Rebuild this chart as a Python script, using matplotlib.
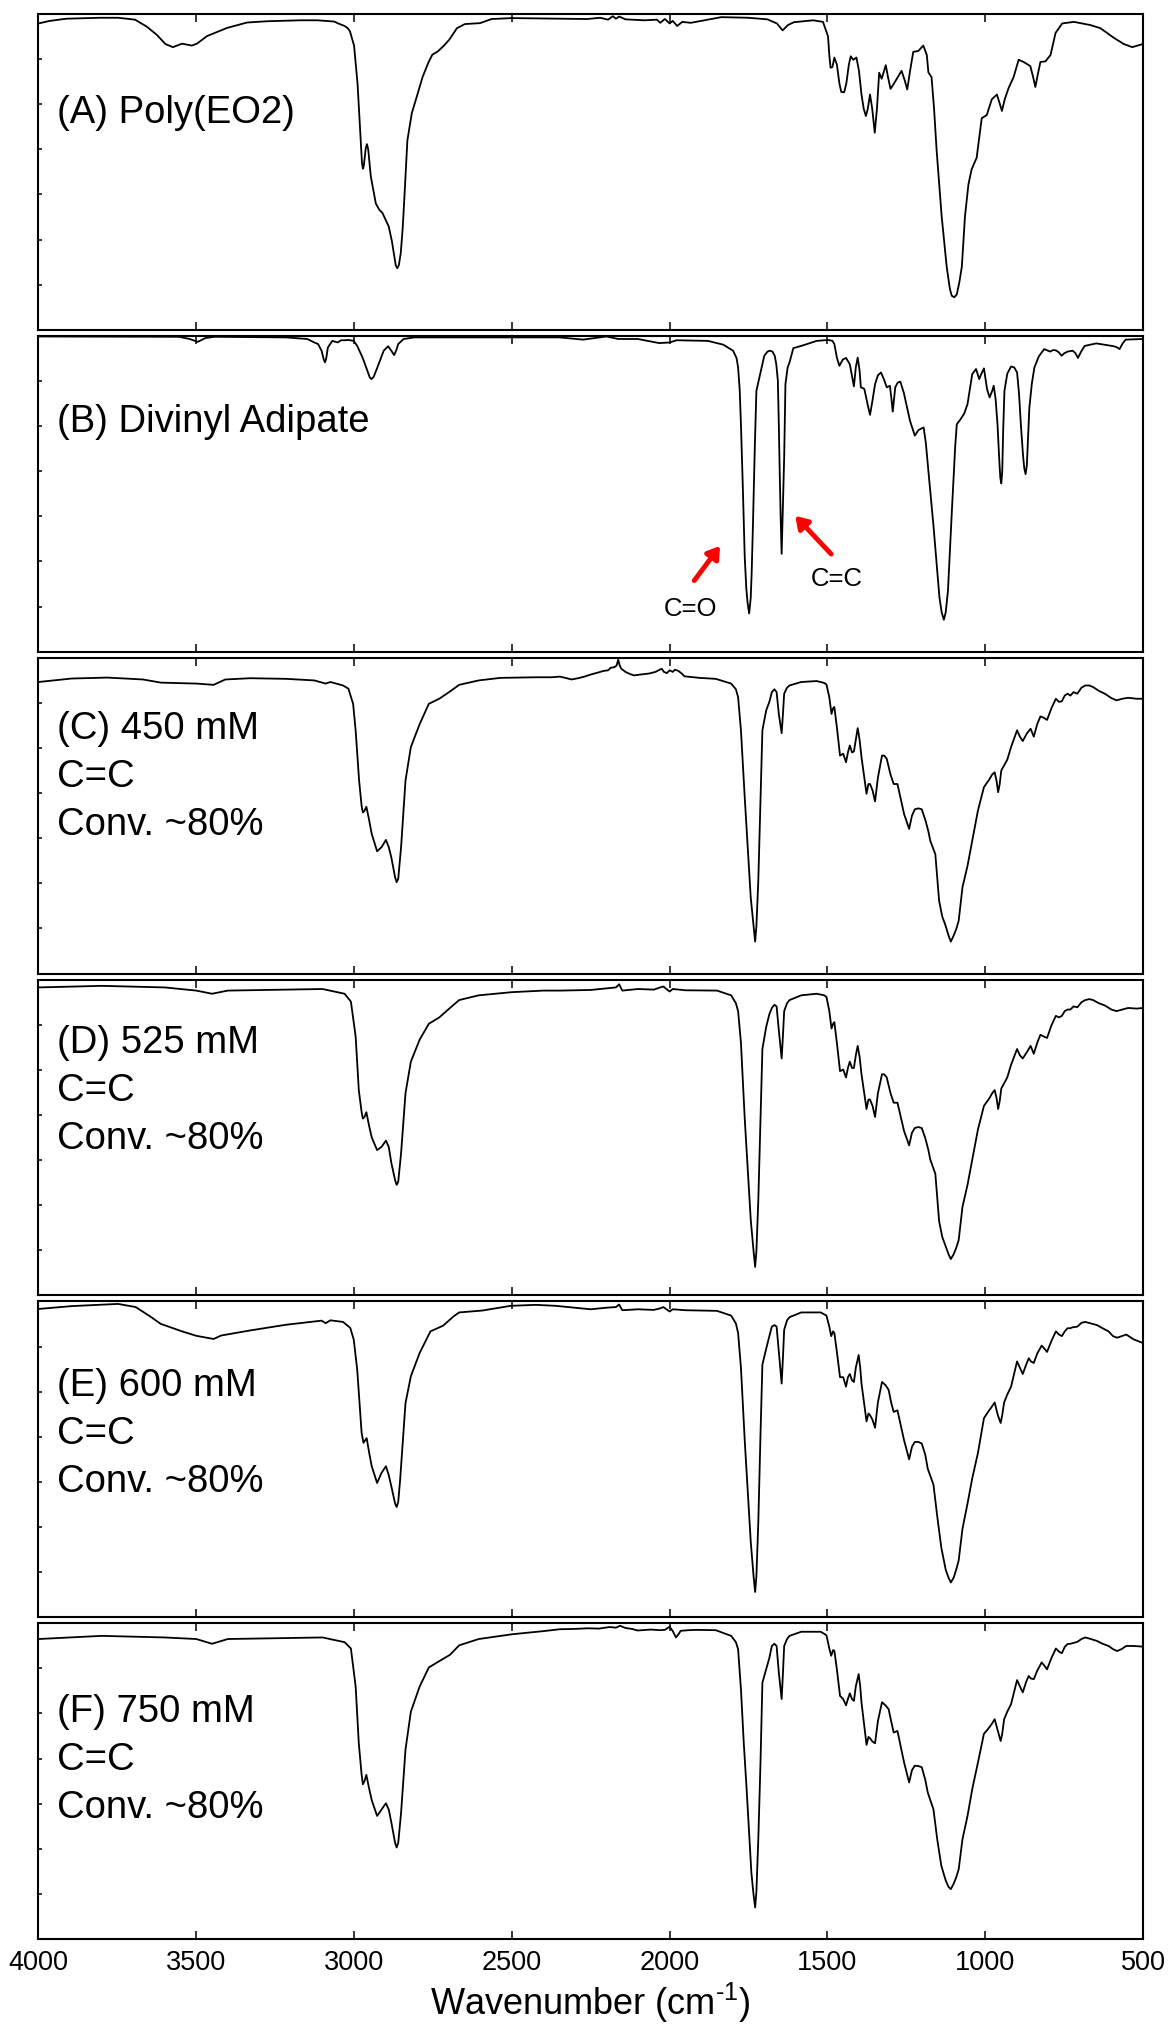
import numpy as np
import matplotlib
matplotlib.use("Agg")
from matplotlib import pyplot as plt

plt.rcParams['font.family'] = ['Liberation Sans', 'DejaVu Sans']
plt.rcParams['mathtext.fontset'] = 'custom'
plt.rcParams['mathtext.rm'] = 'Liberation Sans'
plt.rcParams['mathtext.it'] = 'Liberation Sans:italic'

# FTIR spectra as (wavenumber cm-1, normalised transmittance) pairs
a_pts = [(4000, .970), (3965, .978), (3912, .985), (3806, .988), (3747, .988), (3694, .982), (3657, .960), (3625, .934),
         (3598, .905), (3574, .895), (3545, .906), (3514, .900), (3498, .906), (3466, .930), (3402, .956), (3339, .973),
         (3275, .977), (3171, .980), (3116, .980), (3063, .976), (3050, .970), (3030, .962), (3020, .955), (3013, .945),
         (3000, .900), (2989, .780), (2979, .600), (2975, .530), (2972, .510), (2969, .520), (2963, .575), (2959, .588),
         (2955, .570), (2947, .486), (2931, .400), (2920, .380), (2910, .370), (2890, .327), (2880, .280), (2874, .243),
         (2868, .205), (2863, .195), (2858, .205), (2852, .243), (2846, .320), (2841, .410), (2831, .600), (2817, .686),
         (2801, .739), (2783, .800), (2765, .845), (2752, .871), (2734, .882), (2715, .900), (2698, .919), (2674, .955),
         (2649, .968), (2601, .971), (2564, .984), (2500, .987), (2261, .984), (2220, .988), (2195, .982), (2180, .993),
         (2170, .985), (2160, .992), (2140, .983), (2079, .980), (2040, .982), (2030, .972), (2015, .984), (2000, .970),
         (1990, .978), (1976, .962), (1960, .975), (1933, .972), (1836, .990), (1750, .988), (1690, .983), (1660, .970),
         (1642, .948), (1625, .965), (1606, .974), (1545, .980), (1514, .975), (1498, .929), (1494, .870), (1490, .830),
         (1484, .832), (1478, .862), (1470, .840), (1462, .780), (1456, .753), (1447, .752), (1440, .780), (1432, .840),
         (1426, .866), (1418, .855), (1408, .862), (1400, .820), (1392, .745), (1385, .700), (1378, .677), (1372, .700),
         (1365, .745), (1358, .700), (1350, .624), (1343, .700), (1336, .814), (1328, .795), (1315, .838), (1308, .800),
         (1300, .763), (1292, .775), (1283, .790), (1265, .820), (1255, .790), (1247, .761), (1238, .820), (1228, .880),
         (1212, .883), (1196, .900), (1185, .870), (1180, .815), (1170, .800), (1162, .700), (1154, .570), (1138, .360),
         (1122, .200), (1112, .130), (1106, .108), (1098, .103), (1090, .112), (1082, .150), (1074, .200), (1064, .360),
         (1053, .461), (1043, .508), (1027, .545), (1011, .670), (995, .680), (979, .730), (963, .745), (955, .720),
         (947, .693), (938, .730), (926, .765), (910, .800), (894, .855), (878, .848), (857, .835), (848, .800),
         (841, .769), (833, .810), (825, .848), (809, .850), (793, .870), (777, .940), (756, .970), (719, .975),
         (667, .965), (635, .955), (593, .925), (561, .905), (534, .895), (500, .905)]

b_pts = [(4000, .998), (3555, .997), (3521, .990), (3495, .981), (3471, .993), (3442, .997), (3216, .995), (3148, .990),
         (3126, .979), (3114, .974), (3103, .953), (3096, .925), (3092, .916), (3088, .930), (3083, .963), (3069, .984),
         (3052, .979), (3041, .986), (3029, .986), (3018, .987), (3001, .984), (2990, .968), (2973, .931), (2956, .884),
         (2950, .868), (2945, .863), (2938, .870), (2928, .895), (2906, .953), (2892, .967), (2882, .953), (2873, .939),
         (2866, .955), (2860, .974), (2843, .990), (2809, .995), (2500, .995), (2348, .995), (2274, .988), (2200, .998),
         (2163, .990), (2101, .990), (2033, .977), (2000, .979), (1978, .986), (1879, .984), (1830, .972), (1799, .953),
         (1788, .930), (1783, .900), (1778, .830), (1774, .720), (1768, .520), (1762, .300), (1757, .200), (1753, .155),
         (1748, .121), (1743, .170), (1740, .250), (1736, .400), (1730, .650), (1725, .826), (1713, .879), (1700, .937),
         (1690, .950), (1682, .953), (1674, .950), (1667, .937), (1662, .910), (1657, .858), (1654, .720), (1651, .560),
         (1648, .420), (1645, .310), (1642, .420), (1639, .540), (1637, .615), (1633, .847), (1626, .900), (1620, .916),
         (1608, .961), (1583, .968), (1534, .984), (1497, .987), (1484, .984), (1478, .974), (1470, .931), (1462, .905),
         (1451, .925), (1441, .930), (1429, .910), (1416, .840), (1410, .900), (1404, .931), (1398, .890), (1394, .837),
         (1383, .832), (1372, .780), (1365, .750), (1358, .790), (1349, .847), (1340, .875), (1330, .884), (1320, .860),
         (1312, .837), (1302, .842), (1297, .800), (1293, .760), (1289, .800), (1285, .837), (1277, .852), (1269, .855),
         (1258, .820), (1250, .784), (1238, .730), (1223, .684), (1211, .702), (1195, .710), (1188, .660), (1182, .594),
         (1164, .400), (1145, .172), (1138, .125), (1131, .101), (1125, .125), (1118, .193), (1105, .457), (1095, .650),
         (1090, .720), (1078, .736), (1066, .755), (1056, .784), (1041, .879), (1029, .895), (1019, .863), (1012, .880),
         (1004, .897), (994, .831), (986, .805), (978, .825), (973, .842), (967, .800), (961, .720), (955, .600),
         (952, .550), (949, .533), (946, .570), (943, .700), (939, .826), (930, .880), (918, .903), (908, .900),
         (899, .884), (893, .820), (887, .720), (880, .620), (876, .580), (872, .562), (868, .590), (864, .680),
         (860, .773), (852, .850), (844, .900), (830, .935), (813, .958), (794, .950), (785, .955), (776, .954),
         (767, .948), (758, .937), (749, .945), (739, .950), (723, .953), (714, .945), (706, .930), (696, .950),
         (685, .968), (648, .976), (598, .968), (585, .965), (574, .958), (565, .975), (555, .988), (500, .990)]

c_pts = [(4000, .923), (3895, .934), (3782, .937), (3669, .931), (3612, .921), (3499, .918), (3445, .914), (3408, .931),
         (3329, .935), (3216, .933), (3126, .928), (3090, .918), (3075, .923), (3035, .912), (3018, .902), (3003, .854),
         (2995, .770), (2984, .611), (2976, .530), (2972, .510), (2967, .515), (2961, .528), (2953, .490), (2944, .442),
         (2927, .387), (2913, .400), (2899, .423), (2890, .400), (2882, .368), (2870, .305), (2865, .289), (2860, .300),
         (2851, .400), (2837, .611), (2820, .717), (2792, .790), (2763, .854), (2730, .870), (2696, .893), (2667, .914),
         (2605, .928), (2537, .936), (2424, .938), (2374, .938), (2348, .940), (2330, .936), (2311, .931), (2290, .935),
         (2270, .940), (2249, .947), (2230, .952), (2210, .958), (2195, .960), (2187, .968), (2175, .970), (2168, .975),
         (2163, .994), (2158, .975), (2153, .965), (2140, .955), (2125, .948), (2113, .944), (2090, .947), (2064, .950),
         (2045, .955), (2035, .960), (2025, .965), (2018, .955), (2009, .951), (2000, .960), (1990, .955), (1983, .962),
         (1972, .958), (1962, .950), (1953, .941), (1904, .936), (1854, .933), (1805, .918), (1790, .900), (1783, .875),
         (1774, .770), (1762, .558), (1743, .241), (1734, .150), (1729, .101), (1725, .150), (1719, .294), (1712, .550),
         (1706, .770), (1694, .833), (1684, .860), (1676, .891), (1668, .900), (1661, .891), (1654, .822), (1645, .761),
         (1641, .820), (1637, .886), (1628, .905), (1620, .912), (1583, .923), (1534, .926), (1510, .920), (1503, .915),
         (1494, .875), (1487, .822), (1482, .840), (1478, .844), (1470, .780), (1460, .690), (1450, .696), (1441, .669),
         (1435, .700), (1429, .722), (1422, .700), (1416, .703), (1410, .740), (1404, .777), (1398, .740), (1392, .685),
         (1376, .569), (1370, .600), (1365, .600), (1357, .580), (1349, .545), (1340, .620), (1327, .690), (1320, .690),
         (1312, .680), (1300, .630), (1290, .600), (1278, .600), (1257, .505), (1241, .458), (1232, .500), (1223, .520),
         (1212, .523), (1201, .520), (1189, .484), (1180, .450), (1174, .420), (1158, .378), (1146, .230), (1136, .180),
         (1127, .156), (1116, .120), (1109, .101), (1100, .120), (1092, .140), (1084, .167), (1072, .273), (1056, .341),
         (1041, .421), (1023, .516), (1004, .590), (986, .616), (978, .630), (970, .637), (964, .610), (959, .574),
         (954, .600), (949, .643), (930, .677), (918, .717), (899, .770), (890, .750), (881, .736), (868, .760),
         (856, .775), (846, .750), (835, .790), (825, .814), (815, .810), (804, .803), (790, .840), (776, .870),
         (766, .860), (757, .862), (748, .880), (739, .886), (730, .880), (720, .891), (708, .886), (695, .905),
         (683, .912), (670, .912), (658, .907), (640, .895), (621, .886), (600, .872), (584, .865), (565, .870),
         (547, .873), (520, .870), (500, .870)]

d_pts = [(4000, .975), (3800, .980), (3600, .975), (3500, .965), (3450, .955), (3400, .965), (3100, .970), (3030, .955),
         (3010, .930), (2995, .820), (2985, .650), (2976, .580), (2972, .560), (2967, .565), (2961, .580), (2953, .540),
         (2944, .500), (2927, .460), (2913, .470), (2899, .490), (2890, .470), (2882, .420), (2870, .365), (2865, .350),
         (2860, .360), (2851, .450), (2837, .640), (2820, .740), (2792, .810), (2763, .860), (2730, .880), (2696, .910),
         (2667, .935), (2605, .950), (2500, .960), (2400, .965), (2348, .965), (2250, .967), (2200, .972), (2170, .975),
         (2160, .985), (2150, .965), (2100, .970), (2050, .968), (2030, .975), (2020, .978), (2000, .962), (1990, .970),
         (1950, .966), (1850, .965), (1805, .950), (1790, .925), (1783, .900), (1774, .800), (1762, .560), (1743, .240),
         (1734, .140), (1729, .090), (1725, .140), (1719, .300), (1712, .560), (1706, .780), (1694, .850), (1684, .890),
         (1676, .910), (1668, .920), (1661, .915), (1654, .840), (1645, .750), (1641, .820), (1637, .900), (1628, .925),
         (1620, .935), (1583, .950), (1534, .955), (1510, .950), (1503, .945), (1494, .900), (1487, .845), (1482, .860),
         (1478, .865), (1470, .800), (1460, .710), (1450, .715), (1441, .690), (1435, .720), (1429, .740), (1422, .720),
         (1416, .720), (1410, .760), (1404, .790), (1398, .755), (1392, .700), (1376, .590), (1370, .620), (1365, .620),
         (1357, .600), (1349, .565), (1340, .640), (1327, .700), (1320, .700), (1312, .690), (1300, .640), (1290, .610),
         (1278, .610), (1257, .520), (1241, .475), (1232, .515), (1223, .530), (1212, .533), (1201, .530), (1189, .495),
         (1180, .460), (1174, .430), (1158, .385), (1146, .235), (1136, .185), (1127, .160), (1116, .130), (1109, .115),
         (1100, .130), (1092, .150), (1084, .175), (1072, .280), (1056, .350), (1041, .430), (1023, .525), (1004, .600),
         (986, .625), (978, .640), (970, .650), (964, .625), (959, .590), (954, .615), (949, .655), (930, .690),
         (918, .730), (899, .780), (890, .760), (881, .750), (868, .770), (856, .790), (846, .765), (835, .800),
         (825, .825), (815, .820), (804, .815), (790, .855), (776, .885), (766, .880), (757, .885), (748, .900),
         (739, .905), (730, .905), (720, .915), (708, .912), (695, .928), (683, .935), (670, .938), (658, .935),
         (640, .925), (621, .918), (600, .905), (584, .900), (565, .905), (547, .910), (520, .908), (500, .910)]

e_pts = [(4000, .976), (3895, .985), (3748, .992), (3692, .982), (3647, .953), (3613, .929), (3545, .905), (3500, .891),
         (3445, .881), (3421, .892), (3329, .908), (3216, .926), (3103, .939), (3090, .931), (3075, .940), (3035, .935),
         (3012, .916), (3001, .879), (2990, .784), (2980, .640), (2976, .583), (2970, .552), (2965, .560), (2960, .567),
         (2952, .520), (2944, .478), (2927, .425), (2913, .457), (2899, .478), (2890, .450), (2882, .415), (2870, .360),
         (2865, .349), (2860, .365), (2854, .435), (2837, .678), (2820, .763), (2792, .837), (2758, .905), (2718, .923),
         (2684, .953), (2667, .965), (2594, .971), (2503, .986), (2424, .989), (2362, .986), (2250, .975), (2200, .980),
         (2170, .982), (2160, .990), (2150, .972), (2100, .975), (2050, .973), (2030, .978), (2020, .982), (2000, .968),
         (1990, .975), (1950, .972), (1850, .970), (1805, .955), (1790, .930), (1783, .900), (1774, .790), (1762, .560),
         (1743, .240), (1734, .130), (1729, .080), (1725, .130), (1719, .300), (1712, .580), (1706, .800), (1694, .850),
         (1684, .890), (1676, .920), (1668, .925), (1661, .920), (1654, .840), (1645, .740), (1641, .820), (1637, .910),
         (1628, .940), (1620, .950), (1583, .965), (1521, .965), (1503, .955), (1494, .920), (1488, .890), (1482, .905),
         (1478, .900), (1470, .840), (1460, .760), (1450, .760), (1441, .730), (1435, .760), (1429, .770), (1422, .750),
         (1416, .745), (1410, .790), (1401, .830), (1396, .790), (1392, .740), (1376, .620), (1370, .645), (1365, .640),
         (1357, .625), (1349, .600), (1340, .680), (1327, .745), (1316, .735), (1306, .720), (1298, .680), (1290, .650),
         (1278, .655), (1257, .560), (1241, .500), (1232, .540), (1223, .555), (1212, .555), (1201, .550), (1190, .515),
         (1182, .470), (1164, .420), (1152, .320), (1139, .220), (1125, .150), (1116, .125), (1109, .110), (1100, .125),
         (1092, .150), (1084, .180), (1072, .280), (1056, .360), (1041, .440), (1023, .520), (1004, .630), (991, .650),
         (980, .665), (970, .680), (960, .640), (951, .615), (946, .640), (940, .680), (930, .705), (918, .730),
         (899, .810), (890, .790), (881, .770), (870, .800), (862, .820), (855, .810), (846, .805), (835, .835),
         (821, .860), (812, .850), (804, .840), (790, .875), (776, .905), (766, .895), (757, .890), (748, .905),
         (739, .915), (730, .915), (723, .918), (708, .920), (695, .932), (683, .935), (665, .930), (646, .925),
         (628, .915), (609, .905), (595, .890), (582, .885), (568, .890), (553, .895), (530, .880), (500, .868)]

f_pts = [(4000, .950), (3800, .960), (3600, .955), (3500, .950), (3450, .935), (3400, .950), (3100, .955), (3030, .940),
         (3010, .920), (2995, .800), (2985, .620), (2976, .520), (2972, .490), (2967, .500), (2961, .520), (2953, .480),
         (2944, .440), (2927, .390), (2913, .410), (2899, .430), (2890, .410), (2882, .370), (2870, .305), (2865, .290),
         (2860, .305), (2851, .400), (2837, .600), (2820, .720), (2792, .800), (2763, .860), (2730, .880), (2696, .900),
         (2667, .930), (2605, .950), (2500, .965), (2400, .975), (2348, .981), (2300, .982), (2260, .984), (2224, .983),
         (2190, .988), (2170, .986), (2157, .992), (2140, .985), (2120, .982), (2101, .977), (2060, .980), (2030, .978),
         (2015, .979), (2000, .989), (1990, .975), (1980, .955), (1972, .965), (1965, .976), (1940, .978), (1916, .979),
         (1854, .978), (1805, .960), (1790, .940), (1783, .918), (1774, .791), (1765, .620), (1756, .475), (1741, .211),
         (1734, .140), (1729, .100), (1725, .150), (1719, .316), (1712, .560), (1706, .812), (1694, .854), (1684, .890),
         (1676, .928), (1668, .935), (1661, .928), (1654, .844), (1645, .760), (1641, .840), (1637, .928), (1628, .950),
         (1620, .960), (1583, .973), (1521, .973), (1503, .962), (1494, .920), (1488, .897), (1482, .915), (1478, .913),
         (1470, .854), (1460, .770), (1450, .760), (1441, .740), (1435, .760), (1429, .778), (1422, .760), (1416, .754),
         (1410, .800), (1401, .839), (1396, .800), (1392, .749), (1376, .615), (1370, .640), (1365, .636), (1357, .625),
         (1349, .620), (1340, .690), (1327, .750), (1316, .740), (1306, .728), (1298, .690), (1290, .654), (1278, .659),
         (1257, .559), (1241, .496), (1232, .535), (1223, .549), (1212, .548), (1201, .544), (1190, .505), (1182, .464),
         (1164, .411), (1152, .316), (1139, .232), (1125, .185), (1116, .165), (1109, .158), (1100, .175), (1092, .195),
         (1084, .221), (1072, .316), (1056, .390), (1041, .475), (1023, .559), (1004, .650), (991, .665), (980, .680),
         (970, .696), (960, .660), (951, .627), (946, .650), (940, .696), (930, .720), (918, .744), (899, .820),
         (890, .800), (881, .781), (870, .815), (862, .833), (855, .825), (846, .823), (835, .850), (821, .876),
         (812, .865), (804, .854), (790, .890), (776, .920), (766, .910), (757, .905), (748, .925), (739, .934),
         (730, .935), (723, .937), (708, .941), (695, .950), (683, .955), (665, .950), (646, .944), (628, .935),
         (609, .928), (595, .918), (582, .912), (568, .918), (553, .928), (530, .928), (500, .926)]

labels = ['(A) Poly(EO2)', '(B) Divinyl Adipate',
          '(C) 450 mM\nC=C\nConv. ~80%', '(D) 525 mM\nC=C\nConv. ~80%',
          '(E) 600 mM\nC=C\nConv. ~80%', '(F) 750 mM\nC=C\nConv. ~80%']
label_y = [0.687, 0.726, 0.775, 0.800, 0.731, 0.720]

spectra = [a_pts, b_pts, c_pts, d_pts, e_pts, f_pts]

fig, axes = plt.subplots(6, 1, sharex=True, figsize=(11.7, 20.26), dpi=100,
                         gridspec_kw=dict(hspace=0.019, left=0.0329, right=0.9769, top=0.9931, bottom=0.0429))

for ax, pts, lab, ly in zip(axes, spectra, labels, label_y):
    wn, t = np.array(pts).T
    ax.plot(wn, t, color='black', lw=1.3, solid_joinstyle='round')
    ax.set_xlim(4000, 500)
    ax.set_ylim(0, 1)
    ax.set_xticks(np.arange(4000, 499, -500))
    ax.set_yticks(np.linspace(0, 1, 8))
    ax.tick_params(axis='x', direction='in', top=True, bottom=True, length=6, width=1.1,
                   labelbottom=False, labelsize=19.5, pad=8)
    ax.tick_params(axis='y', direction='in', left=True, right=False, length=3, width=1.1, labelleft=False)
    for s in ax.spines.values():
        s.set_linewidth(1.5)
    for i, line in enumerate(lab.split('\n')):
        ax.text(0.017, ly - i * 0.152, line, transform=ax.transAxes, fontsize=27.5, va='center', ha='left')

axes[-1].tick_params(axis='x', labelbottom=True)
axes[-1].set_xlabel(r'Wavenumber (cm$^{\text{-1}}$)', fontsize=26, labelpad=3)

# carbonyl and vinyl bands of the monomer
arrow = dict(arrowstyle='-|>,head_length=0.7,head_width=0.45', color='red', lw=3.5, shrinkA=0, shrinkB=0)
axes[1].annotate('', xy=(1840, 0.335), xytext=(1922, 0.225), arrowprops=arrow)
axes[1].annotate('', xy=(1602, 0.43), xytext=(1488, 0.309), arrowprops=arrow)
axes[1].text(1935, 0.135, 'C=O', fontsize=18.5, ha='center', va='center')
axes[1].text(1470, 0.23, 'C=C', fontsize=18.5, ha='center', va='center')

fig.savefig('out.png', dpi=100)
